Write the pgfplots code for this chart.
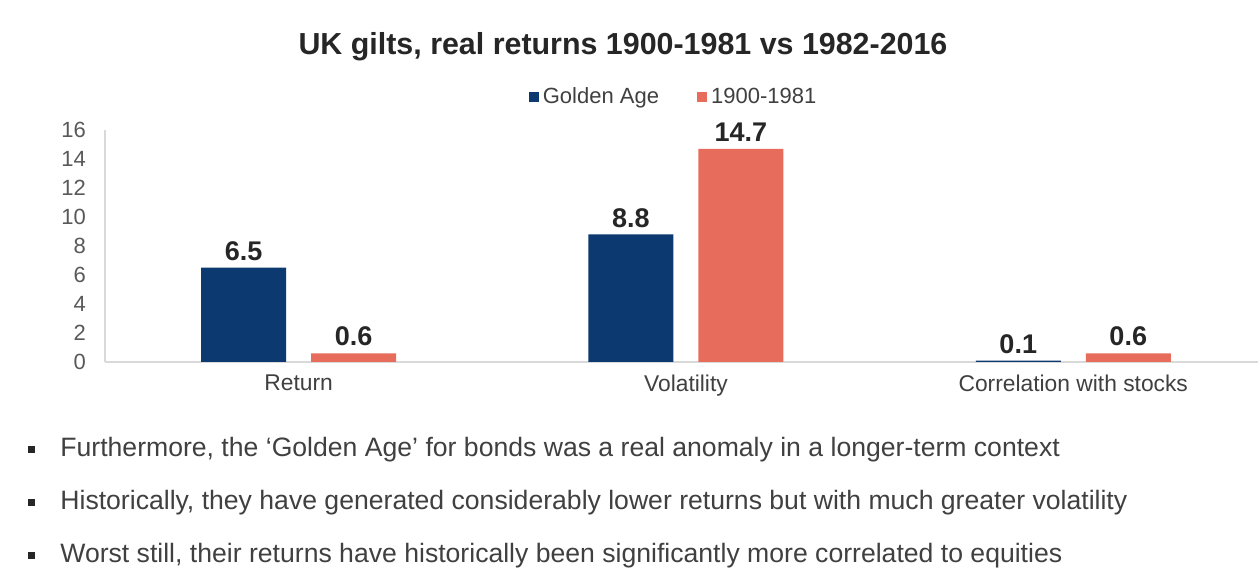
\documentclass[border=0pt]{standalone}
\usepackage{fontspec}
\setmainfont{Liberation Sans}
\usepackage{pgfplots}
\pgfplotsset{compat=1.18}
\definecolor{navy}{RGB}{12,58,112}
\definecolor{salmon}{RGB}{232,108,92}
\definecolor{txt}{RGB}{64,64,64}
\definecolor{tickc}{RGB}{89,89,89}
\definecolor{axc}{RGB}{217,217,217}
\begin{document}
\begin{tikzpicture}
\path[use as bounding box, fill=white] (0,0) rectangle (630pt,288pt);
\begin{axis}[
  at={(52.5pt,107pt)}, anchor=south west,
  scale only axis, width=576.5pt, height=116pt,
  ybar=12.5pt, bar width=42.5pt,
  xmin=-0.5, xmax=2.477, ymin=0, ymax=16,
  xtick={0,1,2}, xticklabels={Return,Volatility,Correlation with stocks},
  ytick={0,2,...,16},
  axis x line*=bottom, axis y line*=left,
  axis line style={draw=axc, line width=0.6pt},
  x axis line style={-}, y axis line style={-},
  major tick length=0pt,
  tick label style={font=\fontsize{11}{13}\selectfont},
  xticklabel style={text=txt, yshift=-3pt, font=\fontsize{11.4}{13}\selectfont},
  yticklabel style={text=tickc, xshift=-6pt},
  /pgf/number format/assume math mode=true,
  nodes near coords,
  every node near coord/.append style={font=\fontsize{13.5}{15}\bfseries, text=black!85, /pgf/number format/fixed, /pgf/number format/precision=1},
  legend style={at={(0.494,1.142)}, anchor=center, draw=none, legend columns=2,
    font=\fontsize{11}{13}\selectfont, text=txt,
    /tikz/every even column/.append style={column sep=17pt}},
  legend image code/.code={\fill[#1] (0pt,-2.5pt) rectangle (5pt,2.5pt);},
]
\addplot[fill=navy, draw=none] coordinates {(0,6.5) (1,8.8) (2,0.1)};
\addplot[fill=salmon, draw=none] coordinates {(0,0.6) (1,14.7) (2,0.6)};
\legend{Golden Age,1900-1981}
\end{axis}
\node[font=\fontsize{15.2}{18}\bfseries, text=black!85] at (311.5pt,264.5pt) {UK gilts, real returns 1900-1981 vs 1982-2016};
\begin{scope}[every node/.style={font=\fontsize{13.3}{15}\selectfont, text=txt, anchor=base west, inner sep=0pt}]
\node at (30pt,59.5pt) {Furthermore, the ‘Golden Age’ for bonds was a real anomaly in a longer-term context};
\node at (30pt,33pt) {Historically, they have generated considerably lower returns but with much greater volatility};
\node at (30pt,6.5pt) {Worst still, their returns have historically been significantly more correlated to equities};
\fill[black!85] (14pt,61.25pt) rectangle (17.5pt,64.75pt);
\fill[black!85] (14pt,34.75pt) rectangle (17.5pt,38.25pt);
\fill[black!85] (14pt,8.25pt) rectangle (17.5pt,11.75pt);
\end{scope}
\end{tikzpicture}
\end{document}
